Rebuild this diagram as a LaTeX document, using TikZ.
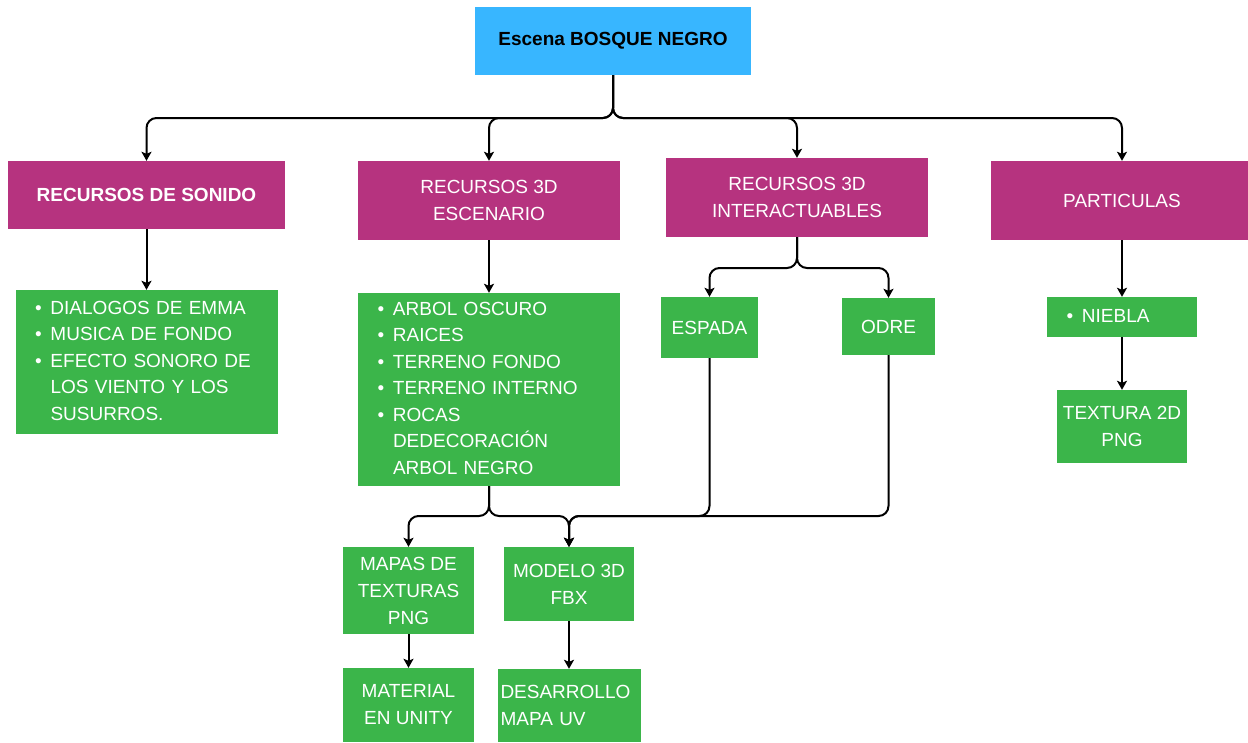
\documentclass[tikz,border=0pt]{standalone}
\usepackage{fontspec}
\setmainfont{Liberation Sans}
\usetikzlibrary{arrows.meta}

\definecolor{skyblue}{HTML}{38B6FF}
\definecolor{plum}{HTML}{B6337F}
\definecolor{leaf}{HTML}{3BB54A}

% bullet list set as a two-column table
\newcommand{\blt}{\textbullet}
\newcommand{\itemlist}[1]{\begin{tabular}{@{}p{15.5pt}@{}l@{}}#1\end{tabular}}

\tikzset{
  box/.style={draw=none, inner sep=0pt, font=\fontsize{19}{27}\selectfont, align=center},
  rootbox/.style={box, fill=skyblue, text=black, font=\fontsize{19}{27}\selectfont\bfseries},
  topicbox/.style={box, fill=plum, text=white},
  leafbox/.style={box, fill=leaf, text=white},
  listbox/.style={box, fill=leaf, text=white, align=left, inner xsep=19.5pt,
    font=\fontsize{19}{26.5}\selectfont},
  conn/.style={draw=black, line width=2pt, rounded corners=10pt,
    -{Stealth[length=9pt,width=10pt,inset=2pt]}},
}

\begin{document}
\begin{tikzpicture}[x=1pt,y=-1pt]
\useasboundingbox (0,0) rectangle (1248,742);

% root
\node[rootbox, minimum width=276pt, minimum height=68pt] (root) at (613,41) {Escena BOSQUE NEGRO};

% second level
\node[topicbox, minimum width=277pt, minimum height=68pt, font=\fontsize{19}{27}\selectfont\bfseries] (snd) at (146.5,195) {RECURSOS DE SONIDO};
\node[topicbox, minimum width=262pt, minimum height=79pt] (esc) at (489,200.5) {RECURSOS 3D\\ESCENARIO};
\node[topicbox, minimum width=262pt, minimum height=79pt] (int) at (797,197.5) {RECURSOS 3D\\INTERACTUABLES};
\node[topicbox, minimum width=262pt, minimum height=79pt] (par) at (1122,200.5) {PARTICULAS};

% lists
\node[listbox, minimum width=262pt, minimum height=144pt, text width=223pt] (sndl) at (146.5,362)
  {\itemlist{\blt & DIALOGOS DE EMMA\\ \blt & MUSICA DE FONDO\\ \blt & EFECTO SONORO DE\\ & LOS VIENTO Y LOS\\ & SUSURROS.}};
\node[listbox, minimum width=262pt, minimum height=193pt, text width=223pt] (escl) at (489,389.5)
  {\itemlist{\blt & ARBOL OSCURO\\ \blt & RAICES\\ \blt & TERRENO FONDO\\ \blt & TERRENO INTERNO\\ \blt & ROCAS\\ & DEDECORACIÓN\\ & ARBOL NEGRO}};

% interactive items
\node[leafbox, minimum width=97pt, minimum height=61pt] (esp) at (709.5,327.5) {ESPADA};
\node[leafbox, minimum width=93pt, minimum height=57pt] (odr) at (888.5,326.5) {ODRE};

% particles
\node[listbox, minimum width=150pt, minimum height=40pt, text width=111pt] (nie) at (1122,317)
  {\itemlist{\blt & NIEBLA}};
\node[leafbox, minimum width=130pt, minimum height=73pt] (tex) at (1122,426.5) {TEXTURA 2D\\PNG};

% asset outputs
\node[leafbox, minimum width=131pt, minimum height=87pt] (map) at (408.5,590.5) {MAPAS DE\\TEXTURAS\\PNG};
\node[leafbox, minimum width=130pt, minimum height=74pt] (mod) at (569,584) {MODELO 3D\\FBX};
\node[leafbox, minimum width=131pt, minimum height=74pt] (mat) at (408.5,705) {MATERIAL\\EN UNITY};
\node[leafbox, minimum width=143pt, minimum height=73pt, align=left, xshift=-3pt, text width=137pt] (des) at (572,705.5) {DESARROLLO\\MAPA UV};

% root branches
\draw[conn] (root.south) -- (613,118) -| (snd.north);
\draw[conn] (root.south) -- (613,118) -| (esc.north);
\draw[conn] (root.south) -- (613,118) -| (int.north);
\draw[conn] (root.south) -- (613,118) -| (par.north);

% straight links
\draw[conn] (snd.south) -- (sndl.north);
\draw[conn] (esc.south) -- (escl.north);
\draw[conn] (par.south) -- (nie.north);
\draw[conn] (nie.south) -- (tex.north);
\draw[conn] (map.south) -- (mat.north);
\draw[conn] (mod.south) -- (mod.south |- des.north);

% interactive branches
\draw[conn] (int.south) -- (797,268) -| (esp.north);
\draw[conn] (int.south) -- (797,268) -| (odr.north);

% merge into the texture maps and the 3D model
\draw[conn] (escl.south) -- (489,516) -| (map.north);
\draw[conn] (escl.south) -- (489,516) -| (mod.north);
\draw[conn] (esp.south) -- (709.5,516) -| (mod.north);
\draw[conn] (odr.south) -- (888.5,516) -| (mod.north);
\end{tikzpicture}
\end{document}
